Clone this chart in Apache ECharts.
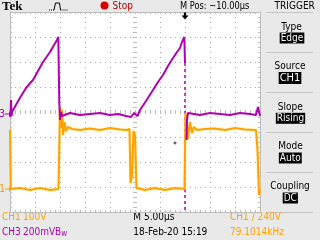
<!DOCTYPE html>
<html>
<head>
<meta charset="utf-8">
<script src="https://cdn.jsdelivr.net/npm/echarts@6/dist/echarts.min.js"></script>
<style>
html,body{margin:0;padding:0;background:#e9e9e9;}
#c{width:320px;height:240px;}
</style>
</head>
<body>
<div id="c"></div>
<script>
// ---- data (time in µs across the 10 divisions, 5 µs/div) ----
const ch1Time  = [0, 0.16, 0.5, 2, 4, 6, 8, 9.7, 9.95, 10, 10.2, 10.4, 10.6, 10.9, 11.2, 11.6, 12.4, 14, 16, 18, 20, 22, 23.4, 23.9, 24.1, 24.4, 24.7, 25.0, 25.3, 25.6, 27, 29, 31, 33, 34.9, 35.0, 35.1, 35.3, 35.6, 36.0, 36.4, 36.8, 37.4, 39, 41, 43, 45, 47, 49.2, 49.5, 49.8, 50];
const ch1Volts = [236, 0, -4, 4, -4, 4, -4, 0, 0, 328, 244, 316, 216, 268, 232, 248, 240, 236, 242, 236, 244, 238, 236, 240, 24, 52, 232, 216, 4, 0, -4, 4, -4, 4, 0, 0, 304, 284, 200, 268, 224, 248, 236, 240, 242, 236, 244, 238, 236, 156, -24, -4];

const ch3Time = [0.1, 0.2, 0.3, 0.4, 2, 3.2, 4.6, 5.6, 6.6, 7, 8, 8.8, 9.4, 9.66, 9.76, 9.86, 10, 10.2, 10.4, 10.6, 12, 14, 16, 18, 20, 21.6, 23.2, 24.2, 24.8, 25.5, 26, 27.2, 28.6, 29.6, 30.6, 31.6, 32.6, 33.4, 34, 34.4, 34.86, 34.95, 35.0, 35.1, 35.3, 35.4, 35.6, 36, 38, 40, 42, 44, 46, 48, 49.2, 49.6, 50];
const ch3MilliVolts = [-24, 112, -16, 16, 130, 208, 272, 344, 416, 424, 496, 552, 592, 616, 600, 88, -48, 16, -16, 0, 8, -8, 0, 8, -8, 0, -16, -24, 8, -16, 32, 104, 192, 256, 312, 384, 448, 496, 528, 576, 616, 600, 408, null, -208, -48, 8, 0, -8, 8, 0, -8, 8, 0, -8, 56, -16];
// fast falling edge of CH3, drawn sparsely (dashed)
const ch3DropTime = [35.0, 35.0];
const ch3DropMilliVolts = [408, -800];

const triggerTime = 35;     // M Pos marker
const cursorTime = [33];
const cursorVolts = [184];

// channel scales: CH1 100 V/div, CH3 200 mV/div
const ch1Min = -92, ch1Max = 708;
const ch3Min = -784, ch3Max = 816;

const FONT = '"Liberation Sans Narrow","DejaVu Sans Condensed","Liberation Sans",sans-serif';
const F10 = '10px ' + FONT;
const ORANGE = '#ffa200';
const PURPLE = '#b000b0';

const zip = (a, b) => a.map((v, i) => [v, b[i]]);

function label(text, x, y, color, align, scaleX) {
  return {type: 'text', x: x, y: y, scaleX: scaleX || 1,
    style: {text: text, font: F10, fill: color, align: align || 'left', verticalAlign: 'middle'}};
}
function box(text, x, y, font) {
  return {type: 'text', x: x, y: y,
    style: {text: text, font: font || F10, fill: '#fff', backgroundColor: '#000', padding: [1, 1, 0, 1], align: 'center', verticalAlign: 'middle'}};
}

const chart = echarts.init(document.getElementById('c'), null, {renderer: 'canvas'});

const gridBorder = '#bcbcbc';
const dotColor = '#a8a8a8';

function borderX(pos, extra) {
  return Object.assign({
    type: 'value', gridIndex: 0, position: pos, min: 0, max: 50, interval: 5,
    axisLine: {show: true, onZero: false, lineStyle: {color: gridBorder, width: 1}},
    axisTick: {show: true, inside: true, length: 2, lineStyle: {color: gridBorder}},
    minorTick: {show: true, splitNumber: 5, length: 2, lineStyle: {color: gridBorder}},
    axisLabel: {show: false}, splitLine: {show: false}
  }, extra || {});
}
function borderY(pos, extra) {
  return Object.assign({
    type: 'value', gridIndex: 0, position: pos, min: 0, max: 8, interval: 1,
    axisLine: {show: true, onZero: false, lineStyle: {color: gridBorder, width: 1}},
    axisTick: {show: true, inside: true, length: 2, lineStyle: {color: gridBorder}},
    minorTick: {show: true, splitNumber: 5, length: 2, lineStyle: {color: gridBorder}},
    axisLabel: {show: false}, splitLine: {show: false}
  }, extra || {});
}

const sepStyle = {stroke: '#c4c4c4', lineWidth: 1};
const sepYs = [12.5, 52.5, 92.5, 132.5, 172.5, 212.5];

const option = {
  backgroundColor: '#e9e9e9',
  animation: false,
  grid: [{left: 10, top: 12, width: 250, height: 200, show: true, backgroundColor: '#ffffff', borderWidth: 0, outerBoundsMode: 'none', containLabel: false}],
  xAxis: [
    borderX('bottom', {splitLine: {show: true, lineStyle: {color: dotColor, type: [1, 4], width: 1}}}),
    borderX('top'),
    borderX('top', {offset: -100, axisLine: {show: false, onZero: false}}),
    borderX('bottom', {offset: -100, axisLine: {show: false, onZero: false}})
  ],
  yAxis: [
    borderY('left', {splitLine: {show: true, lineStyle: {color: dotColor, type: [1, 4], width: 1}}}),
    borderY('right'),
    borderY('left', {offset: -125, axisLine: {show: false, onZero: false}}),
    borderY('right', {offset: -125, axisLine: {show: false, onZero: false}}),
    {type: 'value', gridIndex: 0, min: ch1Min, max: ch1Max, show: false, axisLine: {onZero: false}, splitLine: {show: false}},
    {type: 'value', gridIndex: 0, min: ch3Min, max: ch3Max, show: false, axisLine: {onZero: false}, splitLine: {show: false}}
  ],
  series: [
    {
      name: 'CH3 edge', type: 'line', xAxisIndex: 0, yAxisIndex: 5,
      data: zip(ch3DropTime, ch3DropMilliVolts), showSymbol: false, symbol: 'none',
      lineStyle: {color: PURPLE, width: 1.5, type: [3, 3]}, z: 2
    },
    {
      name: 'CH1', type: 'line', xAxisIndex: 0, yAxisIndex: 4,
      data: zip(ch1Time, ch1Volts), showSymbol: false, symbol: 'none',
      lineStyle: {color: ORANGE, width: 2, shadowColor: 'rgba(255,230,120,0.9)', shadowBlur: 2},
      itemStyle: {color: ORANGE}, z: 3,
      markPoint: {
        symbol: 'path://M0,2H4V0H5V2H8V3H5V5H4V3H0Z', symbolSize: [8, 5], symbolOffset: [-1, 0],
        animation: false, silent: true,
        data: [{coord: [0, 0], itemStyle: {color: ORANGE},
          label: {show: true, position: 'left', distance: 0, formatter: '1', color: ORANGE, fontFamily: FONT, fontSize: 10}}]
      }
    },
    {
      name: 'cursor', type: 'scatter', xAxisIndex: 0, yAxisIndex: 4,
      data: zip(cursorTime, cursorVolts),
      symbol: 'path://M1,0H2V1H3V2H2V3H1V2H0V1H1Z', symbolSize: 3,
      itemStyle: {color: '#000'}, z: 5
    },
    {
      name: 'CH3', type: 'line', xAxisIndex: 0, yAxisIndex: 5,
      data: zip(ch3Time, ch3MilliVolts), showSymbol: false, symbol: 'none', connectNulls: false,
      lineStyle: {color: PURPLE, width: 2}, itemStyle: {color: PURPLE}, z: 4,
      markPoint: {
        animation: false, silent: true,
        data: [
          {coord: [0, 0], symbol: 'path://M0,2H4V0H5V2H8V3H5V5H4V3H0Z', symbolSize: [8, 5], symbolOffset: [-1, 0],
           itemStyle: {color: PURPLE},
           label: {show: true, position: 'left', distance: 0, formatter: '3', color: PURPLE, fontFamily: FONT, fontSize: 10}},
          {coord: [triggerTime, ch3Max], symbol: 'path://M2,0H4V3H6L3,7L0,3H2Z', symbolSize: [7, 7], symbolOffset: [0, 4],
           itemStyle: {color: '#000'}, label: {show: false}}
        ]
      }
    }
  ],
  graphic: [
    // header
    {type: 'text', x: 2, y: 7, style: {text: 'Tek', font: 'bold 13px "Liberation Serif","DejaVu Serif",serif', fill: '#000', verticalAlign: 'middle'}},
    {type: 'polyline', shape: {points: [[49, 10], [54, 10]]}, style: {stroke: '#000', lineWidth: 1, lineDash: [1, 1], fill: null}},
    {type: 'polyline', shape: {points: [[54, 10], [55.5, 3], [59.5, 3], [60.5, 10]]}, style: {stroke: '#000', lineWidth: 1, fill: null}},
    {type: 'polyline', shape: {points: [[60.5, 10], [68, 10]]}, style: {stroke: '#000', lineWidth: 1, lineDash: [1, 1], fill: null}},
    {type: 'circle', shape: {cx: 104.5, cy: 5.5, r: 4}, style: {fill: '#d40000'}},
    label('Stop', 112.5, 6, '#c00000'),
    label('M Pos: \u221210.00\u00b5s', 180, 6, '#000', 'left', 0.92),
    label('TRIGGER', 294.7, 6, '#000', 'center'),
    // right menu separators
    ...sepYs.map(y => ({type: 'line', shape: {x1: 266, y1: y, x2: 313, y2: y}, style: sepStyle})),
    // right menu items
    label('Type', 291.5, 27, '#000', 'center'),
    box('Edge', 292, 38),
    label('Source', 290, 66, '#000', 'center'),
    box('CH1', 290, 78, '11px ' + FONT),
    label('Slope', 290.3, 107, '#000', 'center'),
    box('Rising', 290.5, 118.3),
    label('Mode', 290.5, 146, '#000', 'center'),
    box('Auto', 290.3, 158),
    label('Coupling', 290, 186, '#000', 'center'),
    box('DC', 290.3, 198),
    // status lines
    label('CH1', 2, 217, ORANGE),
    label('100V', 23, 217, ORANGE),
    label('CH3', 2, 232, PURPLE),
    {type: 'text', x: 23, y: 232, style: {text: '{a|200mVB}{b|w}', rich: {a: {font: F10, fill: PURPLE}, b: {font: '8px ' + FONT, fill: PURPLE, padding: [4, 0, 0, 0]}}, verticalAlign: 'middle'}},
    label('M 5.00\u00b5s', 133.3, 217, '#000'),
    label('18-Feb-20 15:19', 133.3, 232, '#000'),
    label('CH1 \u2215 240V', 230, 217, ORANGE),
    label('79.1014kHz', 230, 232, ORANGE)
  ]
};
chart.setOption(option);
</script>
</body>
</html>
